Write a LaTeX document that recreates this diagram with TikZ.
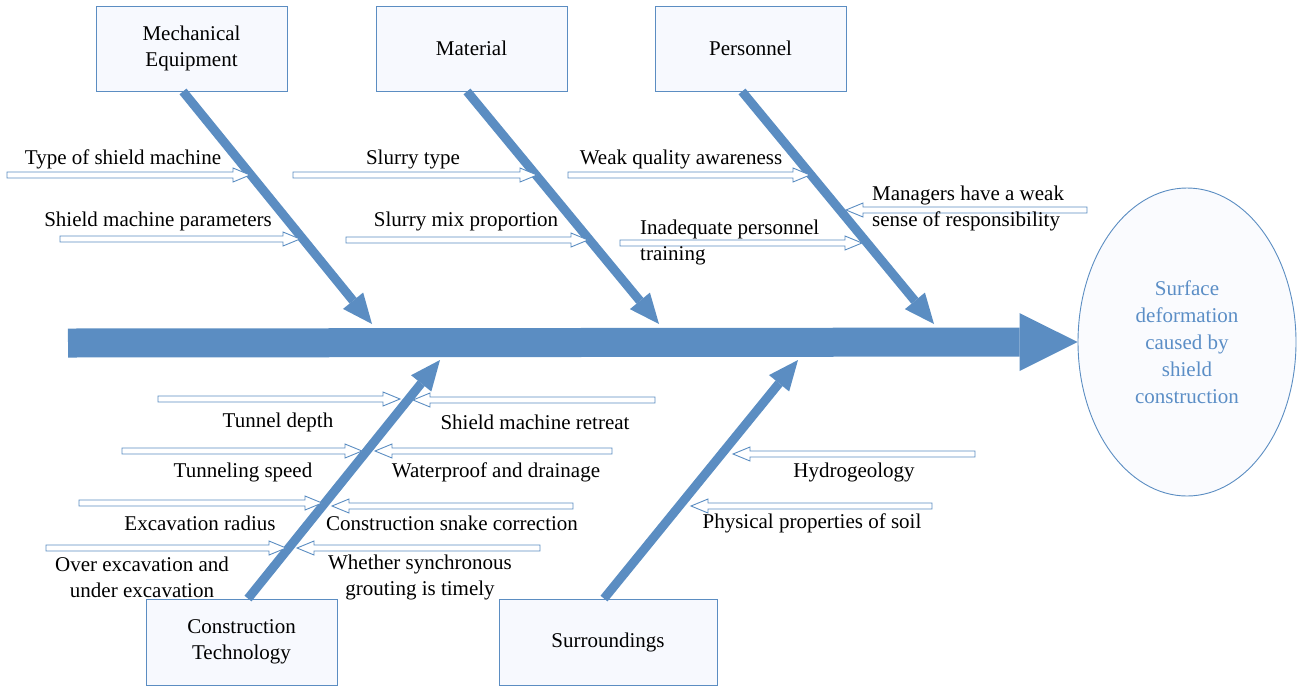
\documentclass[tikz,border=0pt]{standalone}
\usepackage{fontspec}
\setmainfont{Liberation Serif}
\usetikzlibrary{arrows.meta,shapes.geometric,calc}

\definecolor{boneblue}{RGB}{91,141,194}
\definecolor{boxfill}{RGB}{247,249,254}
\definecolor{effectblue}{RGB}{91,142,198}

\newcommand{\fishfont}{\fontsize{21}{26}\selectfont}

% hollow cause arrow: tail x, tip x, y
\newcommand{\causearrow}[3]{%
	\pgfmathsetmacro{\hx}{#2-17*sign(#2-#1)}
	\draw[causeline] (#1,#3-3) -- (\hx,#3-3) -- (\hx,#3-7) -- (#2,#3)
		-- (\hx,#3+7) -- (\hx,#3+3) -- (#1,#3+3) -- cycle;}

\tikzset{
	box/.style={draw=boneblue, fill=boxfill, line width=0.9pt, minimum width=191pt,
		minimum height=85pt, align=center, font=\fishfont},
	bone/.style={draw=boneblue, line width=9pt, -{Triangle[length=30pt,width=26pt,line width=0pt]}},
	spine/.style={draw=boneblue, line width=29pt, -{Triangle[length=58pt,width=58pt,line width=0pt]}},
	causeline/.style={draw=boneblue, fill=white, line width=0.9pt},
	lbl/.style={font=\fishfont, inner sep=0pt, align=center},
}

\begin{document}
\begin{tikzpicture}[x=1pt, y=-1pt]
	\useasboundingbox (0,0) rectangle (1297,686);

	% head of the fish
	\node[ellipse, draw=boneblue, fill=boxfill!60!white, line width=0.9pt, minimum width=218pt,
		minimum height=308pt, align=center, text=effectblue,
		font=\fontsize{21}{27}\selectfont] (effect) at (1187,342)
		{Surface\\deformation\\caused by\\shield\\construction};

	% category boxes
	\node[box] (mech) at (191.5,48.5) {Mechanical\\Equipment};
	\node[box] (mat) at (471.5,48.5) {Material};
	\node[box] (pers) at (750.5,48.5) {Personnel};
	\node[box, minimum height=86pt] (tech) at (241.5,642) {Construction\\Technology};
	\node[box, minimum width=218pt, minimum height=86pt] (surr) at (608,642) {Surroundings};

	% spine and bones
	\coordinate (tail) at (68,343);
	\coordinate (t1) at (372,324);
	\coordinate (t2) at (659,324);
	\coordinate (t3) at (934,324);
	\coordinate (b1) at (440,360);
	\coordinate (b2) at (798,360);
	\draw[spine] (tail) -- (effect.west);
	\draw[bone] ([xshift=-8.5pt]mech.south) -- (t1);
	\draw[bone] ([xshift=-4.5pt]mat.south) -- (t2);
	\draw[bone] ([xshift=-8.5pt]pers.south) -- (t3);
	\draw[bone] ([xshift=6.5pt]tech.north) -- (b1);
	\draw[bone] ([xshift=-4pt]surr.north) -- (b2);

	% causes
	\foreach \xa/\xb/\yy in {7/250/175, 60/300/239, 293/537/175, 346/588/240,
		568/810/175, 620/862/243, 1087/846/210,
		158/400/399, 122/362/451, 79/322/503, 46/286/548,
		655/413/400, 612/375/451, 573/332/506, 540/297/548,
		975/733/454, 932/691/506}
		\causearrow{\xa}{\xb}{\yy};

	\node[lbl] (c1) at (123,159) {Type of shield machine};
	\node[lbl] (c2) at (158,221) {Shield machine parameters};
	\node[lbl] (c3) at (413,159) {Slurry type};
	\node[lbl] (c4) at (466,221) {Slurry mix proportion};
	\node[lbl] (c5) at (681,159) {Weak quality awareness};
	\node[lbl, anchor=west, align=left] (c6) at (640,242) {Inadequate personnel\\training};
	\node[lbl, anchor=west, align=left] (c7) at (872,208) {Managers have a weak\\sense of responsibility};

	\node[lbl] (c8) at (278,422) {Tunnel depth};
	\node[lbl] (c9) at (243,472) {Tunneling speed};
	\node[lbl] (c10) at (200,523) {Excavation radius};
	\node[lbl] (c11) at (142,577) {Over excavation and\\under excavation};
	\node[lbl] (c12) at (535,422) {Shield machine retreat};
	\node[lbl] (c13) at (496,472) {Waterproof and drainage};
	\node[lbl] (c14) at (452,523) {Construction snake correction};
	\node[lbl] (c15) at (420,577) {Whether synchronous\\grouting is timely};

	\node[lbl] (c16) at (854,472) {Hydrogeology};
	\node[lbl] (c17) at (812,523) {Physical properties of soil};
\end{tikzpicture}
\end{document}
